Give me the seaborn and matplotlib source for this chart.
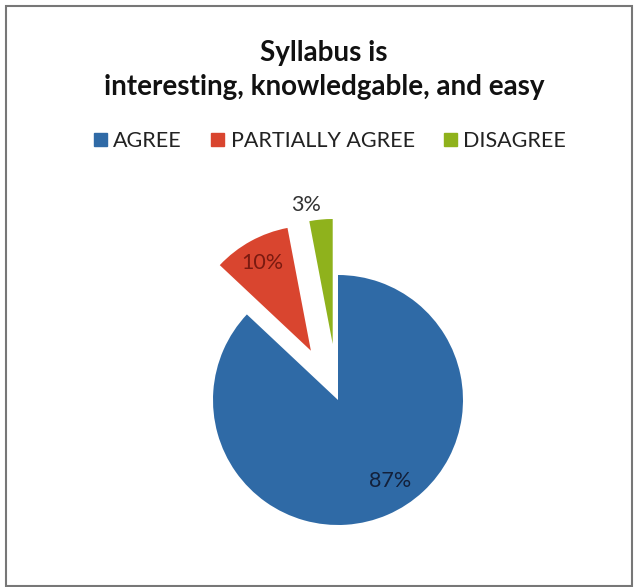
import numpy as np
import matplotlib
matplotlib.use('Agg')
import matplotlib.pyplot as plt
import seaborn as sns
from matplotlib.patches import Rectangle

title = "Syllabus is\ninteresting, knowledgable, and easy"
labels = ['AGREE', 'PARTIALLY AGREE', 'DISAGREE']
values = [87, 10, 3]
colors = ['#2f6aa6', '#d9452f', '#8fb21c']
label_colors = ['#13203a', '#7a1a10', '#333333']

sns.set_theme(style='white')
plt.rcParams['font.family'] = ['Lato', 'DejaVu Sans']

fig = plt.figure(figsize=(6.39, 5.87), dpi=100)
fig.patch.set_facecolor('white')

# pie axes: centre ~ (338, 400) px, radius ~125 px
ax = fig.add_axes([158 / 639, 7 / 587, 360 / 639, 360 / 587])
wedges, _ = ax.pie(values, colors=colors, startangle=90, counterclock=False,
                   explode=[0, 0.45, 0.45], radius=1,
                   wedgeprops=dict(linewidth=0))
ax.set_xlim(-1.44, 1.44)
ax.set_ylim(-1.44, 1.44)
ax.axis('off')

# percentage labels (distance from centre, small angle nudge)
total = sum(values)
start = 90.0
dists = [0.77, 1.25, 1.58]
nudges = [9.5, 0, 4]
for v, d, n, c in zip(values, dists, nudges, label_colors):
    mid = np.deg2rad(start - v / total * 360 / 2 + n)
    start -= v / total * 360
    ax.text(d * np.cos(mid), d * np.sin(mid), f"{v}%", ha='center', va='center',
            fontsize=15.5, color=c)

fig.text(324 / 639, 1 - 70 / 587, title, ha='center', va='center',
         fontsize=20, fontweight='bold', color='#111111', linespacing=1.4)

handles = [plt.Rectangle((0, 0), 1, 1, color=c) for c in colors]
fig.legend(handles, labels, loc='center', bbox_to_anchor=(330 / 639, 1 - 141 / 587),
           ncol=3, frameon=False, fontsize=15.5, handlelength=0.6, handleheight=0.6,
           handletextpad=0.3, columnspacing=1.35, labelcolor='#222222')

fig.patches.append(Rectangle((6 / 639, 1 / 587), 626 / 639, 580 / 587,
                             transform=fig.transFigure, fill=False,
                             edgecolor='#777777', linewidth=1.5))

fig.savefig('out.png', dpi=100)
